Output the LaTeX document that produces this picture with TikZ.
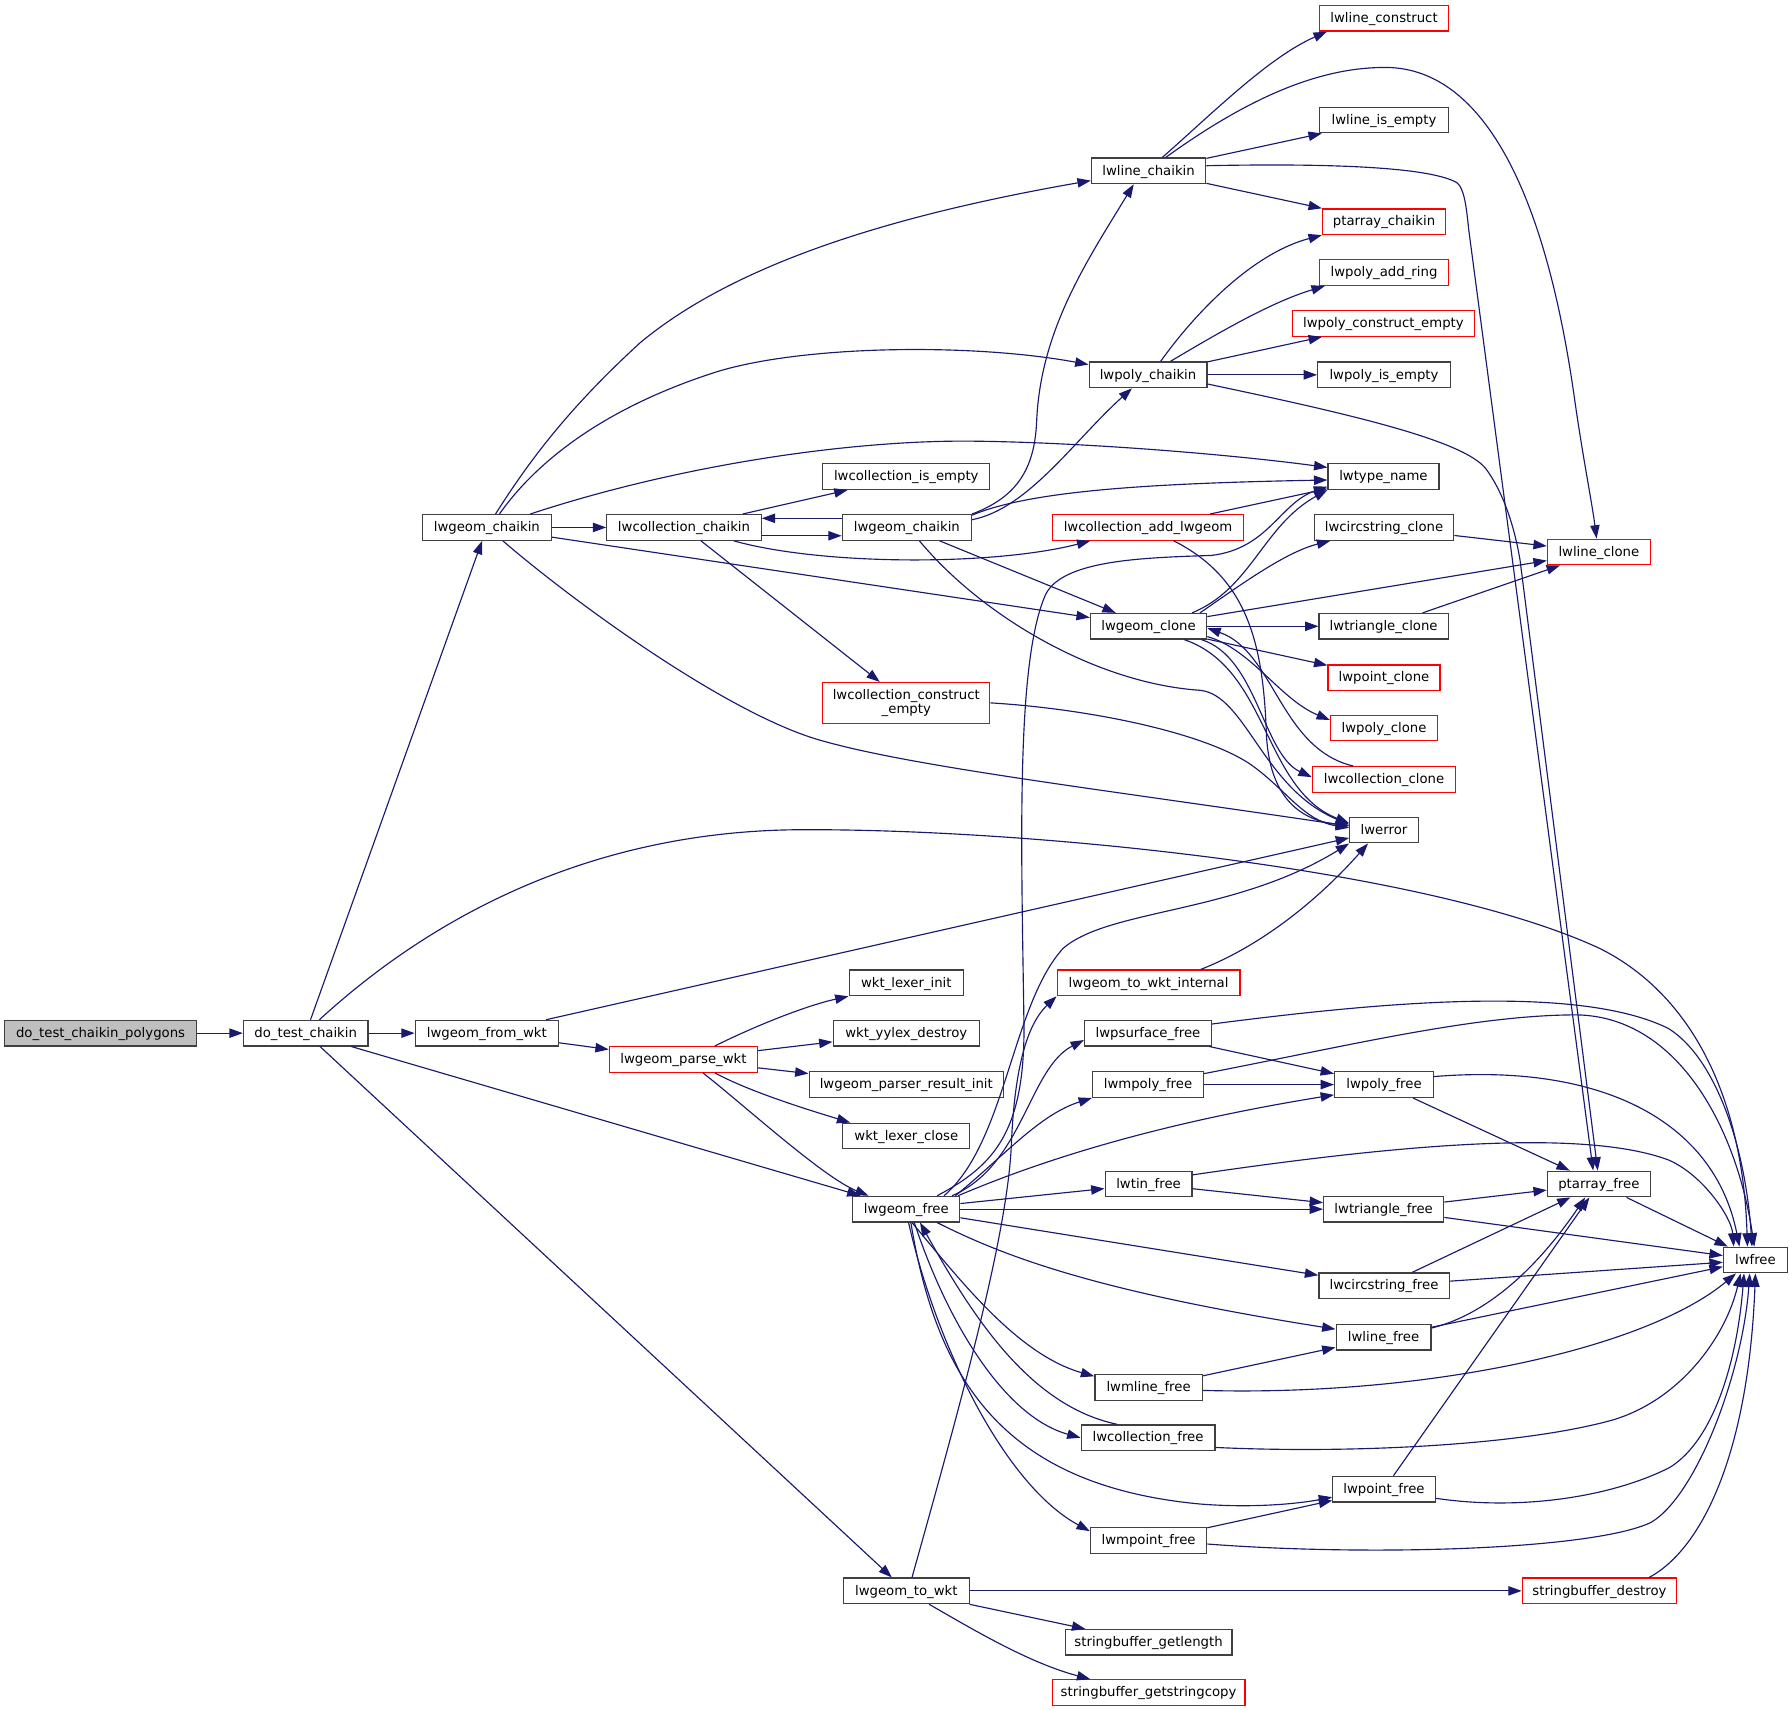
\documentclass[tikz,border=0pt]{standalone}
\usepackage{fontspec}
\setmainfont{DejaVu Sans}
\usetikzlibrary{arrows.meta}
\definecolor{edgeblue}{RGB}{25,25,112}
\definecolor{nodegray}{RGB}{191,191,191}
\definecolor{nodered}{RGB}{255,0,0}
\newcommand\nfont{\fontsize{11.6pt}{12.8pt}\selectfont}
\begin{document}
\begin{tikzpicture}[x=1pt,y=-1pt,
  fn/.style={rectangle, draw=black!75, line width=1.1pt, fill=white, minimum height=22.4pt,
    inner xsep=1pt, inner ysep=0pt, text height=9.2pt, text depth=1.8pt, font=\nfont, text=black},
  rn/.style={fn, draw=nodered},
  rntwo/.style={rectangle, draw=nodered, line width=1.1pt, fill=white, minimum height=35.6pt,
    inner sep=0pt, font=\nfont, align=center, text=black},
  e/.style={draw=edgeblue, line width=1pt, -{Triangle[length=11.7pt,width=8.2pt]}}]
\fill[white] (0,0) rectangle (1568,1496);
\useasboundingbox (0,0) rectangle (1568,1496);

% nodes
\node[fn, fill=nodegray, minimum width=167.5pt] (dtcp) at (88,904) {do\_test\_chaikin\_polygons};
\node[fn, minimum width=109pt] (dtc) at (267.5,904) {do\_test\_chaikin};
\node[fn, minimum width=125.3pt] (lfw) at (426,904) {lwgeom\_from\_wkt};
\node[rn, minimum width=129.6pt] (lpw) at (598,927) {lwgeom\_parse\_wkt};
\node[fn, minimum width=100pt] (wli) at (793,860) {wkt\_lexer\_init};
\node[fn, minimum width=128pt] (wyd) at (793,904) {wkt\_yylex\_destroy};
\node[fn, minimum width=170pt] (lpri) at (793,949) {lwgeom\_parser\_result\_init};
\node[fn, minimum width=111pt] (wlc) at (793,994) {wkt\_lexer\_close};
\node[fn, minimum width=93.5pt] (lgf) at (793,1058) {lwgeom\_free};
\node[fn, minimum width=110pt] (lgtw) at (793,1392) {lwgeom\_to\_wkt};
\node[fn, minimum width=146pt] (sbgl) at (1005,1437) {stringbuffer\_getlength};
\node[rn, minimum width=168.5pt] (sbgsc) at (1005,1481) {stringbuffer\_getstringcopy};
\node[rn, minimum width=135pt] (sbd) at (1399.5,1392) {stringbuffer\_destroy};
\node[fn, minimum width=112.6pt] (lgc1) at (426,461.5) {lwgeom\_chaikin};
\node[fn, minimum width=135pt] (lcc) at (598.5,461.5) {lwcollection\_chaikin};
\node[fn, minimum width=113pt] (lgc2) at (793.5,461.5) {lwgeom\_chaikin};
\node[fn, minimum width=146pt] (lcie) at (793,417) {lwcollection\_is\_empty};
\node[rntwo, minimum width=146pt] (lcce) at (793,615) {lwcollection\_construct\\\_empty};
\node[fn, minimum width=100pt] (lwlc) at (1005,149.5) {lwline\_chaikin};
\node[fn, minimum width=103pt] (lwpc) at (1004.5,328) {lwpoly\_chaikin};
\node[rn, minimum width=167pt] (lcal) at (1004.5,461.5) {lwcollection\_add\_lwgeom};
\node[fn, minimum width=101.7pt] (lgcl) at (1005,548) {lwgeom\_clone};
\node[rn, minimum width=160pt] (lgwi) at (1005,860) {lwgeom\_to\_wkt\_internal};
\node[fn, minimum width=111pt] (lpsf) at (1004.5,904) {lwpsurface\_free};
\node[fn, minimum width=97pt] (lmpf) at (1004.5,949) {lwmpoly\_free};
\node[fn, minimum width=76pt] (ltinf) at (1005,1036) {lwtin\_free};
\node[fn, minimum width=94pt] (lmlf) at (1005,1214) {lwmline\_free};
\node[fn, minimum width=117pt] (lcf) at (1004.5,1258) {lwcollection\_free};
\node[fn, minimum width=101.7pt] (lmptf) at (1005,1348) {lwmpoint\_free};
\node[rn, minimum width=112.5pt] (lwlcon) at (1211,16) {lwline\_construct};
\node[fn, minimum width=112.5pt] (lwlie) at (1211,105) {lwline\_is\_empty};
\node[rn, minimum width=107.6pt] (ptc) at (1211,194) {ptarray\_chaikin};
\node[rn, minimum width=112.5pt] (lpar) at (1211,238.5) {lwpoly\_add\_ring};
\node[rn, minimum width=159pt] (lpce) at (1210.5,283) {lwpoly\_construct\_empty};
\node[fn, minimum width=116pt] (lpie) at (1211,328) {lwpoly\_is\_empty};
\node[fn, minimum width=97pt] (ltn) at (1210.5,417) {lwtype\_name};
\node[fn, minimum width=122pt] (lcsc) at (1211,461.5) {lwcircstring\_clone};
\node[fn, minimum width=113pt] (ltric) at (1210.7,548) {lwtriangle\_clone};
\node[rn, minimum width=98pt] (lptc) at (1211,593) {lwpoint\_clone};
\node[rn, minimum width=93.6pt] (lpc) at (1211,637) {lwpoly\_clone};
\node[rn, minimum width=125.4pt] (lcolc) at (1211,682) {lwcollection\_clone};
\node[fn, minimum width=60pt] (lwerr) at (1211,726.3) {lwerror};
\node[fn, minimum width=86.4pt] (lpf) at (1211,949) {lwpoly\_free};
\node[fn, minimum width=105pt] (ltf) at (1210.7,1058) {lwtriangle\_free};
\node[fn, minimum width=114pt] (lcsf) at (1211,1125) {lwcircstring\_free};
\node[fn, minimum width=83pt] (llf) at (1210.6,1170) {lwline\_free};
\node[fn, minimum width=89.6pt] (lptf) at (1211,1303) {lwpoint\_free};
\node[rn, minimum width=90pt] (llc) at (1399,483) {lwline\_clone};
\node[fn, minimum width=90pt] (ptf) at (1399,1036) {ptarray\_free};
\node[fn, minimum width=56pt] (lwfree) at (1536,1102.5) {lwfree};

% edges from do_test_chaikin_polygons / do_test_chaikin
\draw[e] (dtcp) -- (dtc);
\draw[e] (dtc) -- (lgc1);
\draw[e] (dtc) -- (lfw);
\draw[e] (dtc) -- (lgf);
\draw[e] (dtc) -- (lgtw);
\draw[e] ([xshift=12pt]dtc.north) .. controls (380,800) and (520,727) .. (700,726)
  .. controls (900,725) and (1250,760) .. (1400,830)
  .. controls (1480,870) and (1525,960) .. ([xshift=-7pt]lwfree.north);

% lwgeom_from_wkt / lwgeom_parse_wkt
\draw[e] (lfw) -- (lpw);
\draw[e] (lfw) -- (lwerr);
\draw[e] ([xshift=27.5pt]lpw.north) .. controls (660,898) and (705,880) .. (wli.south west);
\draw[e] (lpw) -- (wyd);
\draw[e] (lpw) -- (lpri);
\draw[e] ([xshift=27.5pt]lpw.south) .. controls (655,955) and (710,972) .. ([xshift=-49pt]wlc.north);
\draw[e] ([xshift=17pt]lpw.south) .. controls (650,966) and (720,1030) .. ([xshift=-33pt]lgf.north);

% lwgeom_chaikin (first)
\draw[e] ([xshift=7.6pt]lgc1.north) .. controls (465,400) and (500,355) .. (560,300)
  .. controls (650,225) and (800,185) .. ([yshift=-8.5pt]lwlc.west);
\draw[e] ([xshift=11pt]lgc1.north) .. controls (465,410) and (520,360) .. (625,326)
  .. controls (700,302) and (850,300) .. ([yshift=9pt]lwpc.west);
\draw[e] ([xshift=38pt]lgc1.north) .. controls (600,405) and (750,385) .. (850,386)
  .. controls (950,387) and (1080,398) .. ([yshift=8pt]ltn.west);
\draw[e] (lgc1) -- (lcc);
\draw[e] (lgc1) -- (lgcl);
\draw[e] ([xshift=14pt]lgc1.south) .. controls (500,525) and (630,620) .. (712,646)
  .. controls (790,670) and (960,690) .. ([yshift=3.5pt]lwerr.west);

% lwcollection_chaikin
\draw[e] (lcc) -- (lcie);
\draw[e] ([yshift=-7.3pt]lcc.east) -- ([yshift=-7.3pt]lgc2.west);
\draw[e] ([yshift=8pt]lgc2.west) -- ([yshift=8pt]lcc.east);
\draw[e] ([xshift=43.5pt]lcc.south) .. controls (720,495) and (870,495) .. ([xshift=-50.5pt]lcal.south);
\draw[e] (lcc) -- (lcce);

% lwgeom_chaikin (second)
\draw[e] (lgc2.north east) .. controls (890,435) and (905,410) .. (907,370)
  .. controls (910,290) and (950,230) .. ([xshift=-13pt]lwlc.south);
\draw[e] ([yshift=-5pt]lgc2.north east) .. controls (900,445) and (940,385) .. ([xshift=-14pt]lwpc.south);
\draw[e] ([yshift=-1pt]lgc2.north east) .. controls (900,430) and (1000,423) .. ([yshift=-3pt]ltn.west);
\draw[e] (lgc2) -- (lgcl);
\draw[e] ([xshift=11pt]lgc2.south) .. controls (860,540) and (960,598) .. (1050,604)
  .. controls (1090,608) and (1105,690) .. ([yshift=5pt]lwerr.west);

% lwline_chaikin
\draw[e] ([xshift=12pt]lwlc.north) .. controls (1060,100) and (1110,50) .. ([xshift=-50pt]lwlcon.south);
\draw[e] ([xshift=15pt]lwlc.north) .. controls (1100,80) and (1160,59) .. (1212,59)
  .. controls (1290,59) and (1350,150) .. (1378,351)
  .. controls (1385,400) and (1393,440) .. ([xshift=-2pt]llc.north);
\draw[e] (lwlc) -- (lwlie);
\draw[e] (lwlc) -- (ptc);
\draw[e] ([yshift=4.5pt]lwlc.east) .. controls (1150,143) and (1250,145) .. (1275,160)
  .. controls (1281,165) and (1283,180) .. (1285,200) -- ([xshift=-5pt]ptf.north);

% lwpoly_chaikin
\draw[e] ([xshift=11pt]lwpc.north) .. controls (1045,275) and (1095,222) .. (ptc.south west);
\draw[e] ([xshift=19.5pt]lwpc.north) .. controls (1060,295) and (1110,265) .. ([xshift=5pt]lpar.south west);
\draw[e] (lwpc) -- (lpce);
\draw[e] (lwpc) -- (lpie);
\draw[e] ([yshift=-8pt]lwpc.east) .. controls (1180,362) and (1280,385) .. (1300,410)
  .. controls (1315,430) and (1325,460) .. (1330,490) -- ([xshift=-1pt]ptf.north);

% lwcollection_add_lwgeom, lwcollection_construct_empty
\draw[e] (lcal) -- (ltn);
\draw[e] ([xshift=22.5pt]lcal.south) .. controls (1090,505) and (1105,560) .. (1108,640)
  .. controls (1110,700) and (1140,718) .. ([yshift=4pt]lwerr.west);
\draw[e] (lcce.east) .. controls (950,620) and (1050,640) .. (1093,668)
  .. controls (1125,690) and (1140,718) .. ([yshift=2pt]lwerr.west);

% lwgeom_clone
\draw[e] (lgcl) -- (llc);
\draw[e] ([xshift=45pt]lgcl.north) .. controls (1085,512) and (1125,483) .. ([xshift=-47pt]lcsc.south);
\draw[e] ([xshift=38pt]lgcl.north) .. controls (1095,515) and (1105,460) .. (ltn.south west);
\draw[e] (lgcl) -- (ltric);
\draw[e] (lgcl) -- (lptc);
\draw[e] ([yshift=-9pt]lgcl.east) .. controls (1095,568) and (1120,612) .. ([yshift=7pt]lpc.west);
\draw[e] ([xshift=-5pt]lgcl.south east) .. controls (1100,575) and (1105,660) .. ([yshift=2pt]lcolc.west);
\draw[e] ([xshift=-20pt]lgcl.south east) .. controls (1110,585) and (1105,690) .. ([yshift=6pt]lwerr.west);
\draw[e] ([xshift=-27pt]lcolc.north) .. controls (1120,655) and (1115,570) .. ([yshift=-1.6pt]lgcl.east);
\draw[e] (lcsc) -- (llc);
\draw[e] (ltric) -- (llc);

% lwgeom_free
\draw[e] ([xshift=27pt]lgf.north) .. controls (870,1020) and (896,990) .. (896,900)
  .. controls (894,750) and (888,580) .. (915,520)
  .. controls (930,490) and (1000,488) .. (1060,486)
  .. controls (1110,480) and (1120,440) .. ([yshift=3pt]ltn.south west);
\draw[e] ([xshift=33pt]lgf.north) .. controls (880,1000) and (885,880) .. (930,830)
  .. controls (970,795) and (1080,800) .. (lwerr.south west);
\draw[e] ([xshift=40pt]lgf.north) .. controls (895,1020) and (900,935) .. ([yshift=-6pt]lpsf.west);
\draw[e] ([xshift=43pt]lgf.north) .. controls (880,1010) and (910,975) .. (lmpf.south west);
\draw[e] ([xshift=-2pt]lgf.north east) .. controls (900,1020) and (1000,985) .. ([yshift=-9pt]lpf.west);
\draw[e] (lgf) -- (ltinf);
\draw[e] (lgf) -- (ltf);
\draw[e] (lgf) -- (lcsf);
\draw[e] ([xshift=27pt]lgf.south) .. controls (880,1100) and (960,1130) .. ([yshift=7pt]llf.west);
\draw[e] ([xshift=5pt]lgf.south) .. controls (840,1120) and (890,1185) .. ([yshift=-2pt]lmlf.north west);
\draw[e] ([xshift=7pt]lgf.south) .. controls (830,1160) and (880,1240) .. (lcf.west);
\draw[e] ([xshift=-27pt]lcf.north) .. controls (900,1230) and (850,1150) .. ([xshift=12pt]lgf.south);
\draw[e] ([xshift=4pt]lgf.south) .. controls (820,1210) and (880,1300) .. (1050,1316)
  .. controls (1100,1320) and (1140,1315) .. ([yshift=-7pt]lptf.west);
\draw[e] ([xshift=2pt]lgf.south) .. controls (820,1180) and (880,1300) .. ([yshift=-3.5pt]lmptf.north west);

% lwgeom_to_wkt
\draw[e] (lgtw) -- (sbd);
\draw[e] (lgtw) -- (sbgl);
\draw[e] ([xshift=20pt]lgtw.south) .. controls (850,1425) and (900,1455) .. ([xshift=-51pt]sbgsc.north);
\draw[e] ([xshift=5pt]lgtw.north) .. controls (840,1230) and (882,1080) .. (885,1000)
  .. controls (888,930) and (900,895) .. (lgwi.south west);
\draw[e] ([xshift=-35pt]lgwi.north east) .. controls (1110,825) and (1160,780) .. ([xshift=-14pt]lwerr.south);

% free functions
\draw[e] (ptf) -- (lwfree);
\draw[e] (ltf) -- (ptf);
\draw[e] (ltf) -- (lwfree);
\draw[e] (lcsf) -- (ptf);
\draw[e] (lcsf) -- (lwfree);
\draw[e] ([yshift=8pt]llf.east) .. controls (1310,1148) and (1355,1095) .. ([xshift=-12pt]ptf.south);
\draw[e] (llf) -- (lwfree);
\draw[e] (lptf) -- (ptf);
\draw[e] ([yshift=-8pt]lptf.east) .. controls (1330,1322) and (1410,1310) .. (1461,1284)
  .. controls (1500,1260) and (1520,1190) .. ([xshift=-10pt]lwfree.south);
\draw[e] (lmptf) -- (lptf);
\draw[e] ([yshift=-3pt]lmptf.east) .. controls (1200,1362) and (1395,1356) .. (1444.8,1332)
  .. controls (1485,1308) and (1525,1200) .. ([xshift=-5pt]lwfree.south);
\draw[e] ([yshift=-8.5pt]lcf.east) .. controls (1180,1272) and (1330,1265) .. (1411,1242.5)
  .. controls (1470,1225) and (1510,1170) .. ([xshift=-13pt]lwfree.south);
\draw[e] (lmlf) -- (llf);
\draw[e] ([yshift=-2.6pt]lmlf.east) .. controls (1250,1222) and (1440,1180) .. ([xshift=-17pt]lwfree.south);
\draw[e] (lpsf) -- (lpf);
\draw[e] ([yshift=8pt]lpsf.east) .. controls (1200,878) and (1380,860) .. (1460,900)
  .. controls (1500,925) and (1527,1000) .. ([xshift=-3pt]lwfree.north);
\draw[e] (lmpf) -- (lpf);
\draw[e] ([yshift=9.6pt]lmpf.east) .. controls (1180,915) and (1290,888) .. (1380,888)
  .. controls (1470,890) and (1520,990) .. ([xshift=-1pt]lwfree.north);
\draw[e] (lpf) -- (ptf);
\draw[e] ([yshift=7pt]lpf.east) .. controls (1400,930) and (1500,980) .. ([xshift=-14pt]lwfree.north);
\draw[e] (ltinf) -- (ltf);
\draw[e] ([yshift=8pt]ltinf.east) .. controls (1200,1005) and (1380,985) .. (1460,1015)
  .. controls (1490,1028) and (1515,1065) .. ([xshift=-19pt]lwfree.north);
\draw[e] ([xshift=43.5pt]sbd.north) .. controls (1490,1355) and (1530,1270) .. (lwfree.south);
\end{tikzpicture}
\end{document}
